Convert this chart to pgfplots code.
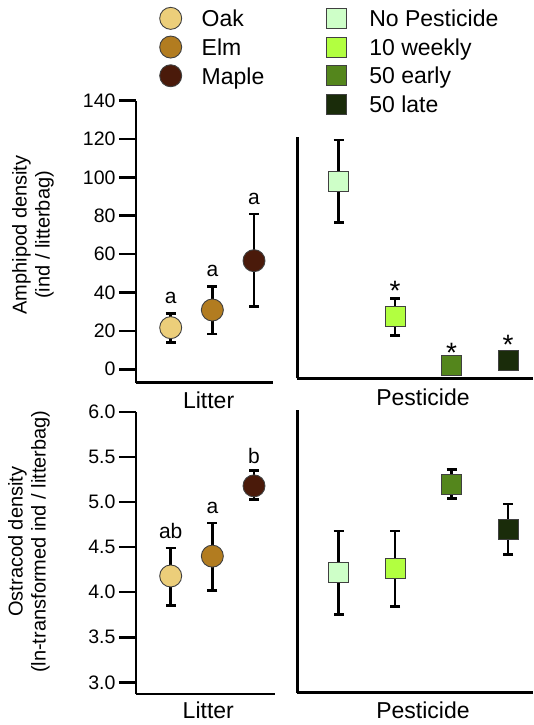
\documentclass[border=0pt]{standalone}
\usepackage{pgfplots}
\pgfplotsset{compat=1.18}
\usepackage{fontspec}
\setmainfont{Liberation Sans}
\definecolor{oak}{RGB}{236,206,122}
\definecolor{elm}{RGB}{178,124,32}
\definecolor{maple}{RGB}{74,26,10}
\definecolor{nop}{RGB}{206,255,200}
\definecolor{wk}{RGB}{178,255,64}
\definecolor{early}{RGB}{84,134,28}
\definecolor{late}{RGB}{26,44,10}
\tikzset{
  letter/.style={font=\fontsize{21}{23}\selectfont, anchor=base, inner sep=0pt},
  star/.style={font=\fontsize{28}{30}\selectfont, anchor=base, inner sep=0pt},
}
\pgfplotsset{
  base/.style={
    scale only axis,
    axis x line*=bottom, axis y line*=left,
    every outer x axis line/.append style={line width=2.6pt, black},
    every outer y axis line/.append style={line width=2.6pt, black},
    axis line style={line width=2.6pt,-},
    xtick=\empty,
    clip=false,
    tick align=outside,
    major tick length=17pt,
    major tick style={line width=2.6pt, black},
    tick label style={font=\fontsize{19.5}{22}\selectfont},
    /pgf/number format/assume math mode=true,
    xlabel style={font=\fontsize{23}{26}\selectfont, inner sep=0pt, anchor=north},
    ylabel style={font=\fontsize{20}{23}\selectfont, align=center, anchor=center},
    legend style={draw=none, fill=none, inner sep=0pt, outer sep=0pt, anchor=north west, row sep=6.7pt,
      nodes={inner sep=0pt, text height=16.5pt, text depth=0pt, font=\fontsize{23}{26}\selectfont}},
    legend cell align=left,
  },
  eb/.style={error bars/.cd, y dir=both, y explicit,
    error bar style={line width=2.6pt,black,solid},
    error mark options={rotate=90,mark size=5pt,line width=2.6pt,draw=black,solid}},
  circ/.style={only marks, mark=*, mark size=11pt, mark options={fill=#1, draw=black!75, line width=0.9pt}, eb},
  sq/.style={only marks, mark=square*, mark size=10pt, mark options={fill=#1, draw=black!75, line width=0.9pt}, eb},
}
\begin{document}
\begin{tikzpicture}
\useasboundingbox (0pt,0pt) rectangle (533pt,725pt);
% Top-left: Amphipod, Litter
\begin{axis}[base, at={(136pt,342.3pt)}, anchor=south west, width=137pt, height=282pt,
  xmin=0.167, xmax=3.456, ymin=-7, ymax=140, ytick={0,20,...,140},
  xlabel={Litter}, xlabel style={at={(axis description cs:0.53,0)}, yshift=-9pt},
  ylabel={Amphipod density\\(ind / litterbag)}, ylabel style={at={(axis description cs:-0.752,0.524)}},
  legend image code/.code={\path[draw=none,fill=none] (-11pt,-11pt) rectangle (31pt,11pt); \draw[#1] plot coordinates {(0pt,0pt)};},
  legend style={at={(axis description cs:0.173,1.331)}},
]
\addplot[circ=oak] coordinates {(1,21.7) +=(0,7.5) -=(0,7.6)};
\addlegendentry{Oak}
\addplot[circ=elm] coordinates {(2,30.9) +=(0,12.1) -=(0,12.5)};
\addlegendentry{Elm}
\addplot[circ=maple] coordinates {(3,56.6) +=(0,24.3) -=(0,24.0)};
\addlegendentry{Maple}
\node[letter] at (axis cs:1,34.4) {a};
\node[letter] at (axis cs:2,48.3) {a};
\node[letter] at (axis cs:3,86.0) {a};
\end{axis}
% Top-right: Amphipod, Pesticide
\begin{axis}[base, at={(297.3pt,346.7pt)}, anchor=south west, width=235.7pt, height=241.6pt,
  xmin=0.2664, xmax=4.443, ymin=-4.7, ymax=121.2, ytick=\empty,
  xlabel={Pesticide}, xlabel style={at={(axis description cs:0.533,0)}, yshift=-10pt},
  legend image code/.code={\path[draw=none,fill=none] (-11pt,-11pt) rectangle (32.6pt,11pt); \draw[#1] plot coordinates {(0pt,0pt)};},
  legend style={at={(axis description cs:0.1205,1.5356)}},
]
\addplot[sq=nop] coordinates {(1,98.1) +=(0,21.4) -=(0,21.7)};
\addlegendentry{No Pesticide}
\addplot[sq=wk] coordinates {(2,27.3) +=(0,9.7) -=(0,9.8)};
\addlegendentry{10 weekly}
\addplot[sq=early] coordinates {(3,1.9) +=(0,1.0) -=(0,1.0)};
\addlegendentry{50 early}
\addplot[sq=late] coordinates {(4,4.8) +=(0,1.0) -=(0,1.0)};
\addlegendentry{50 late}
\node[star] at (axis cs:2,35.6) {*};
\node[star] at (axis cs:3,3.3) {*};
\node[star] at (axis cs:4,7.6) {*};
\end{axis}
% Bottom-left: Ostracod, Litter
\begin{axis}[base, at={(136pt,31pt)}, anchor=south west, width=139pt, height=282pt,
  xmin=0.167, xmax=3.504, ymin=2.87, ymax=6, ytick={3,3.5,...,6},
  yticklabel style={/pgf/number format/.cd, fixed, fixed zerofill, precision=1},
  xlabel={Litter}, xlabel style={at={(axis description cs:0.52,0)}, yshift=-7.7pt},
  ylabel={Ostracod density\\(ln-transformed ind / litterbag)}, ylabel style={at={(axis description cs:-0.77,0.54)}},
]
\addplot[circ=oak] coordinates {(1,4.18) +=(0,0.31) -=(0,0.33)};
\addplot[circ=elm] coordinates {(2,4.40) +=(0,0.37) -=(0,0.38)};
\addplot[circ=maple] coordinates {(3,5.18) +=(0,0.17) -=(0,0.15)};
\node[letter] at (axis cs:1,4.60) {ab};
\node[letter] at (axis cs:2,4.876) {a};
\node[letter] at (axis cs:3,5.43) {b};
\end{axis}
% Bottom-right: Ostracod, Pesticide
\begin{axis}[base, at={(297.3pt,32.3pt)}, anchor=south west, width=235.7pt, height=282.7pt,
  xmin=0.2664, xmax=4.443, ymin=2.885, ymax=6.022, ytick=\empty,
  xlabel={Pesticide}, xlabel style={at={(axis description cs:0.533,0)}, yshift=-9pt},
]
\addplot[sq=nop] coordinates {(1,4.22) +=(0,0.46) -=(0,0.47)};
\addplot[sq=wk] coordinates {(2,4.26) +=(0,0.42) -=(0,0.42)};
\addplot[sq=early] coordinates {(3,5.20) +=(0,0.16) -=(0,0.16)};
\addplot[sq=late] coordinates {(4,4.70) +=(0,0.28) -=(0,0.28)};
\end{axis}
\end{tikzpicture}
\end{document}
